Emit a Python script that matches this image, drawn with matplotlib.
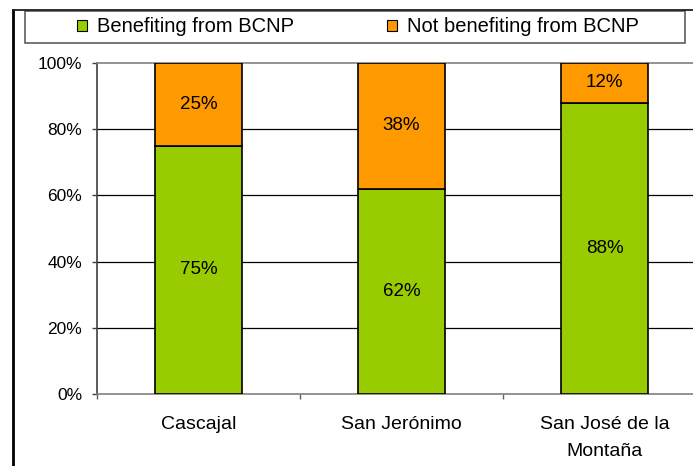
import matplotlib
matplotlib.use('Agg')
import matplotlib.pyplot as plt
from matplotlib.patches import Patch, Rectangle
from matplotlib.lines import Line2D
import numpy as np

plt.rcParams['font.family'] = ['Liberation Sans', 'DejaVu Sans']

# data (percent of households)
villages = ["Cascajal", "San Jerónimo", "San José de la\nMontaña"]
benefiting = [75, 62, 88]
not_benefiting = [25, 38, 12]
yticks = [0, 20, 40, 60, 80, 100]
legend_labels = ["Benefiting from BCNP", "Not benefiting from BCNP"]

green = "#99CC00"
orange = "#FF9900"

W, H = 693, 466
fig = plt.figure(figsize=(W / 100, H / 100), dpi=100)

# plot area runs a bit past the right edge (the original is cropped)
ax = fig.add_axes([97 / W, 1 - 394 / H, 609 / W, 331 / H])

x = np.arange(len(villages))
bw = 0.433
ax.bar(x, benefiting, bw, color=green, edgecolor="black", linewidth=1.2, zorder=3)
ax.bar(x, not_benefiting, bw, bottom=benefiting, color=orange,
       edgecolor="black", linewidth=1.2, zorder=3)

for i in range(len(villages)):
    ax.text(x[i], benefiting[i] / 2, "%d%%" % benefiting[i], ha="center", va="center",
            fontsize=13.5, zorder=4)
    ax.text(x[i], benefiting[i] + not_benefiting[i] / 2, "%d%%" % not_benefiting[i],
            ha="center", va="center", fontsize=13.5, zorder=4)

ax.set_xlim(-0.5, len(villages) - 0.5)
ax.set_ylim(0, 100)
ax.set_yticks(yticks)
ax.set_yticklabels(["%d%%" % v for v in yticks], fontsize=12.5)
for v in yticks[1:-1]:
    ax.axhline(v, color="black", linewidth=0.9, zorder=1)

ax.set_xticks(x)
ax.set_xticklabels(villages, fontsize=14, linespacing=1.75)
ax.set_xticks(np.arange(-0.5, len(villages), 1.0), minor=True)
ax.tick_params(axis="x", which="major", length=0, pad=16)
ax.tick_params(axis="x", which="minor", length=3.6, color="#606060", width=1)
ax.tick_params(axis="y", length=3.6, color="#404040", width=1, pad=7)

for s in ["top", "bottom"]:
    ax.spines[s].set_color("#808080")
    ax.spines[s].set_linewidth(1.2)
ax.spines["left"].set_color("#404040")
ax.spines["left"].set_linewidth(1.2)
ax.spines["right"].set_visible(False)

# outer chart frame (only left and top survive the crop)
fig.add_artist(Line2D([13 / W, 13 / W], [1 - 10 / H, 0], transform=fig.transFigure,
                      color="black", linewidth=2))
fig.add_artist(Line2D([13 / W, 1], [1 - 10 / H, 1 - 10 / H], transform=fig.transFigure,
                      color="#202020", linewidth=1.3))

# legend box
fig.add_artist(Rectangle((25 / W, 1 - 43 / H), 660 / W, 32 / H, transform=fig.transFigure,
                         facecolor="white", edgecolor="#505050", linewidth=1.1))
handles = [Patch(facecolor=green, edgecolor="black", linewidth=0.8),
           Patch(facecolor=orange, edgecolor="black", linewidth=0.8)]
fig.legend(handles, legend_labels, loc="center", bbox_to_anchor=(358 / W, 1 - 27 / H),
           ncol=2, frameon=False, fontsize=14.5, handlelength=0.5, handleheight=0.5,
           handletextpad=0.5, columnspacing=4.6, borderpad=0)

fig.savefig("out.png", dpi=100)
